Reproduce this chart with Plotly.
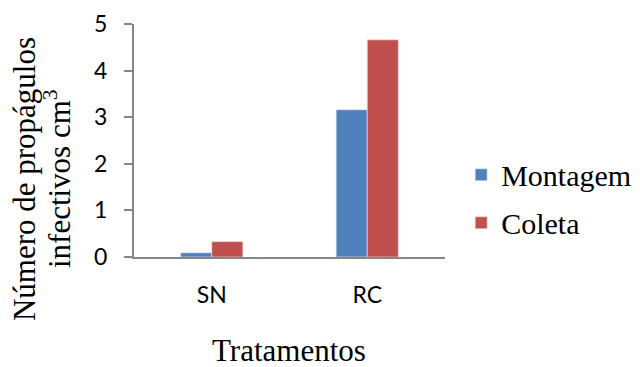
import plotly.graph_objects as go

# Treatments and the two sampling moments
tratamentos = ["SN", "RC"]
montagem = [0.09, 3.16]
coleta = [0.33, 4.66]
y_ticks = [0, 1, 2, 3, 4, 5]

serif = "Liberation Serif, Times New Roman, serif"
sans = "Lato, Open Sans, sans-serif"
axis_gray = "#868686"

fig = go.Figure()
fig.add_trace(go.Bar(
    x=tratamentos, y=montagem, name="Montagem", legendgroup="m",
    marker=dict(color="#4F81BD", line=dict(color="#E8EEF7", width=0.6)),
))
fig.add_trace(go.Bar(
    x=tratamentos, y=coleta, name="Coleta", legendgroup="c",
    marker=dict(color="#C0504D", line=dict(color="#F5E3E3", width=0.6)),
))

title_font = dict(family=serif, size=31, color="black")

fig.update_layout(
    width=640, height=367,
    margin=dict(l=134, r=195, t=24, b=110, autoexpand=False),
    paper_bgcolor="white", plot_bgcolor="white",
    barmode="group", bargap=0.6, bargroupgap=0,
    showlegend=True,
    legend=dict(
        x=1.052, y=0.25, xanchor="left", yanchor="middle",
        font=dict(family=serif, size=30, color="black"),
        traceorder="grouped", tracegroupgap=6,
        bgcolor="rgba(0,0,0,0)",
    ),
    xaxis=dict(
        showline=True, linecolor=axis_gray, linewidth=2,
        ticks="", showgrid=False, zeroline=False,
        tickfont=dict(family=sans, size=23, color="black"),
        ticklabelstandoff=16,
    ),
    yaxis=dict(
        range=[0, 5], tickvals=y_ticks,
        showline=True, linecolor=axis_gray, linewidth=2,
        ticks="outside", ticklen=8, tickcolor=axis_gray, tickwidth=2,
        showgrid=False, zeroline=False,
        tickfont=dict(family=sans, size=23, color="black"),
        ticklabelstandoff=12,
    ),
    annotations=[
        dict(
            text="Número de propágulos",
            xref="paper", yref="paper", x=-0.350, y=0.335,
            xanchor="center", yanchor="middle", textangle=-90,
            showarrow=False, font=title_font,
        ),
        dict(
            text="infectivos cm<sup>3</sup>",
            xref="paper", yref="paper", x=-0.244, y=0.335,
            xanchor="center", yanchor="middle", textangle=-90,
            showarrow=False, font=title_font,
        ),
        dict(
            text="Tratamentos",
            xref="paper", yref="paper", x=0.497, y=-0.40,
            xanchor="center", yanchor="middle",
            showarrow=False, font=title_font,
        ),
    ],
)

fig.write_html("out.html")
